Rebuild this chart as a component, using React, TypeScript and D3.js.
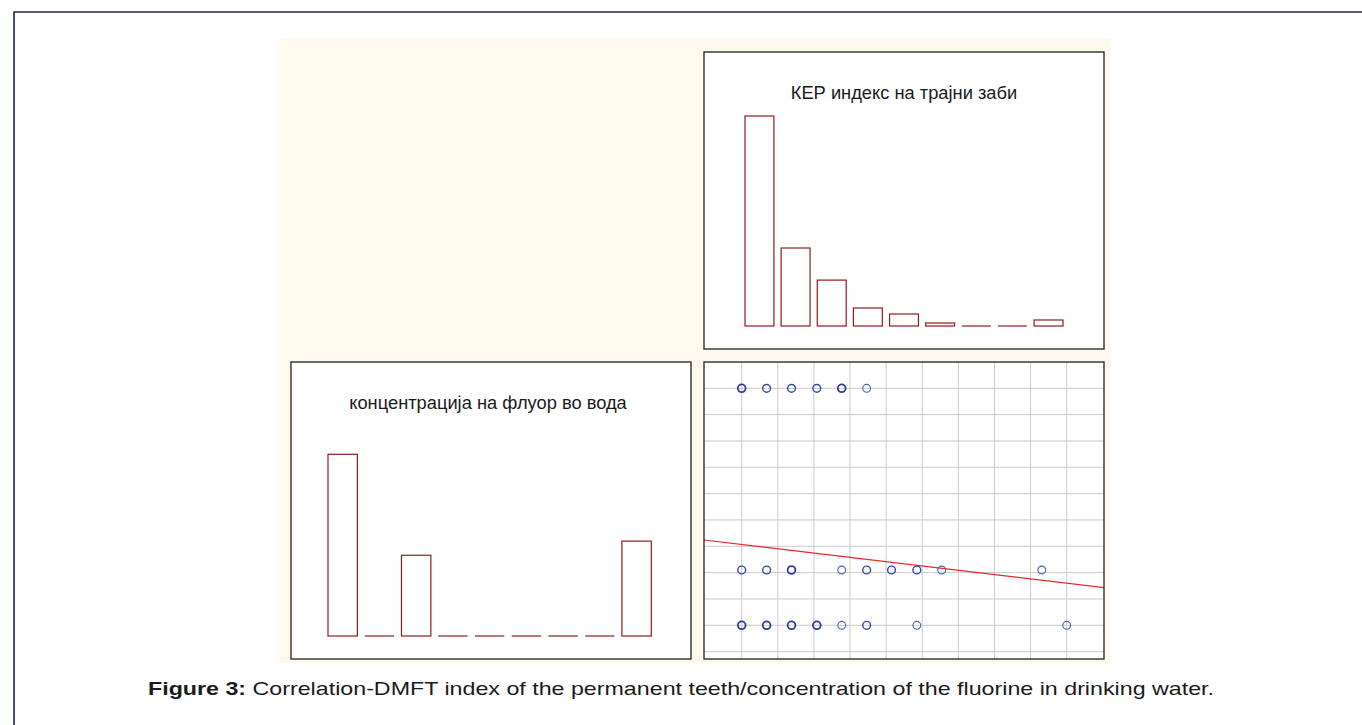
import React from "react";
import * as d3 from "d3";

// ---- Data ----
// Histogram: KEP (DMFT) index of permanent teeth (frequencies per class)
const kepCategories = ["1", "2", "3", "4", "5", "6", "7", "8", "9"];
const kepCounts = [70, 26, 15.3, 6, 4, 1, 0, 0, 2];

// Histogram: fluorine concentration in water
const fluorCategories = ["1", "2", "3", "4", "5", "6", "7", "8", "9"];
const fluorCounts = [54, 0, 24, 0, 0, 0, 0, 0, 28.2];

// Scatter points (x: concentration units, y: index units, n: overlapping obs.)
const topRowX = [0, 0.69, 1.38, 2.08, 2.77, 3.46];
const topRowN = [3, 2, 2, 2, 3, 1];
const midRowX = [0, 0.69, 1.38, 2.77, 3.46, 4.15, 4.85, 5.54, 8.31];
const midRowN = [2, 2, 3, 1, 2, 2, 2, 1, 1];
const lowRowX = [0, 0.69, 1.38, 2.08, 2.77, 3.46, 4.85, 9.0];
const lowRowN = [3, 3, 3, 3, 1, 2, 1, 1];
const rowY = [9, 2.1, 0];

// Grid ticks for the scatter
const gridX = [0, 1, 2, 3, 4, 5, 6, 7, 8, 9];
const gridY = [-1, 0, 1, 2, 3, 4, 5, 6, 7, 8, 9];

// Fitted regression line endpoints (x, y)
const fitX = [-1.044, 10.04];
const fitY = [3.24, 1.43];

const titleKep = "КЕР индекс на трајни заби";
const titleFluor = "концентрација на флуор во вода";
const captionBold = "Figure 3:";
const captionText = " Correlation-DMFT index of the permanent teeth/concentration of the fluorine in drinking water.";

const FONT = "'Liberation Sans', Arial, Helvetica, sans-serif";
const BAR = "#8e1c1c";
const PANEL_BORDER = "#1f1f1f";

function Histogram({
  cats, vals, left, top, right, bottom, bandRange, base, maxVal, maxTop, title, titleX, titleY,
}: any) {
  const x = d3.scaleBand<string>().domain(cats).range(bandRange).paddingInner(0.2).paddingOuter(0);
  const y = d3.scaleLinear().domain([0, maxVal]).range([base, maxTop]);
  return (
    <g>
      <rect x={left} y={top} width={right - left} height={bottom - top} fill="#fff" stroke={PANEL_BORDER} strokeWidth={1.3} />
      <text x={titleX} y={titleY} textAnchor="middle" fontFamily={FONT} fontSize={18.3} fill="#1a1a1a">{title}</text>
      {vals.map((v: number, i: number) => {
        const y0 = y(v);
        const bx = x(cats[i])!;
        if (base - y0 < 0.5) {
          return (
            <line key={i} x1={bx} x2={bx + x.bandwidth()} y1={base} y2={base} stroke={BAR} strokeWidth={1.2} />
          );
        }
        return (
          <rect key={i} x={bx} y={y0} width={x.bandwidth()} height={base - y0}
            fill="#fff" stroke={BAR} strokeWidth={1.2} />
        );
      })}
    </g>
  );
}

function Scatter() {
  const L = 704, T = 362, R = 1104, B = 659;
  const x = d3.scaleLinear().domain([0, 9]).range([741.7, 1066.7]);
  const y = d3.scaleLinear().domain([0, 9]).range([625.3, 388.3]);
  const rows = [
    { xs: topRowX, ns: topRowN, yv: rowY[0] },
    { xs: midRowX, ns: midRowN, yv: rowY[1] },
    { xs: lowRowX, ns: lowRowN, yv: rowY[2] },
  ];
  const line = d3.line<number>().x((_, i) => x(fitX[i])).y((d) => y(d));
  return (
    <g>
      <rect x={L} y={T} width={R - L} height={B - T} fill="#fff" />
      <clipPath id="scClip"><rect x={L} y={T} width={R - L} height={B - T} /></clipPath>
      <g clipPath="url(#scClip)">
        {gridX.map((g) => (
          <line key={"gx" + g} x1={x(g)} x2={x(g)} y1={T} y2={B} stroke="#cacaca" strokeWidth={1} />
        ))}
        {gridY.map((g) => (
          <line key={"gy" + g} x1={L} x2={R} y1={y(g)} y2={y(g)} stroke="#cacaca" strokeWidth={1} />
        ))}
        <path d={line(fitY) || ""} fill="none" stroke="#e8282a" strokeWidth={1.2} />
        {rows.map((r, ri) =>
          r.xs.map((xv, i) => (
            <circle key={ri + "-" + i} cx={x(xv)} cy={y(r.yv)} r={3.9} fill="none"
              stroke={r.ns[i] >= 3 ? "#2a3f9a" : r.ns[i] === 2 ? "#354ca8" : "#4a5fb5"}
              strokeWidth={r.ns[i] >= 3 ? 1.8 : r.ns[i] === 2 ? 1.45 : 1.1} />
          ))
        )}
      </g>
      <rect x={L} y={T} width={R - L} height={B - T} fill="none" stroke={PANEL_BORDER} strokeWidth={1.3} />
    </g>
  );
}

export default function App() {
  return (
    <svg width={1362} height={725} style={{ position: "absolute", left: 0, top: 0, display: "block" }}>
      <rect x={0} y={0} width={1362} height={725} fill="#fff" />
      <path d="M14,725 V12 H1362" fill="none" stroke="#1b2a48" strokeWidth={1.6} />
      <rect x={279} y={39} width={831} height={624} fill="#fff9ec" />
      <Histogram cats={kepCategories} vals={kepCounts} left={704} top={52} right={1104} bottom={349}
        bandRange={[745, 1063]} base={326} maxVal={70} maxTop={116} title={titleKep} titleX={904} titleY={99} />
      <Histogram cats={fluorCategories} vals={fluorCounts} left={291} top={362} right={691} bottom={659}
        bandRange={[328, 651.3]} base={636} maxVal={54} maxTop={454.3} title={titleFluor} titleX={488} titleY={409} />
      <Scatter />
      <text x={148} y={695} textLength={1066} lengthAdjust="spacingAndGlyphs" fontFamily={FONT} fontSize={19} fill="#1a1a1a">
        <tspan fontWeight="bold">{captionBold}</tspan>
        <tspan>{captionText}</tspan>
      </text>
    </svg>
  );
}
